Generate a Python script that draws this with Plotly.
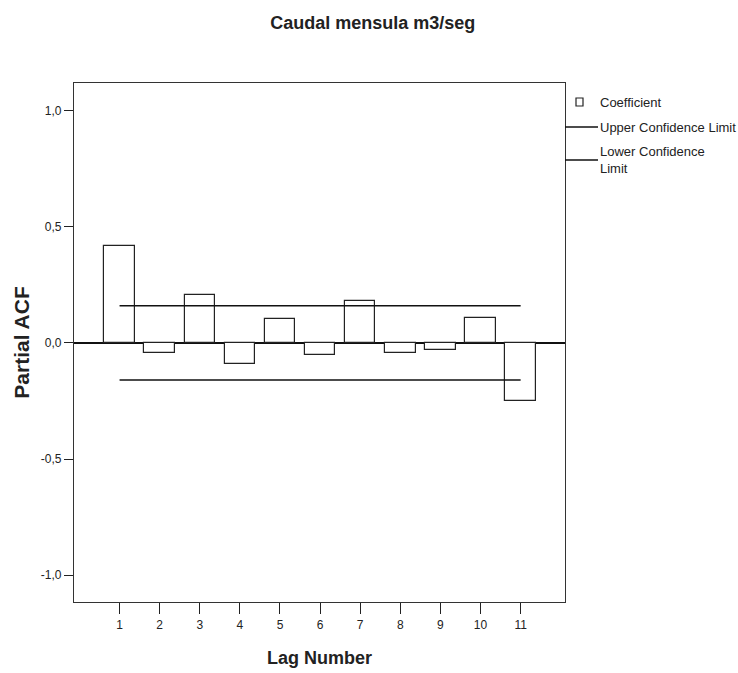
import plotly.graph_objects as go

# ---- data ----
lags = [1, 2, 3, 4, 5, 6, 7, 8, 9, 10, 11]
pacf = [0.415, -0.043, 0.207, -0.092, 0.102, -0.053, 0.181, -0.043, -0.031, 0.106, -0.251]
upper_cl = [0.16] * 11
lower_cl = [-0.16] * 11
ytick_vals = [-1.0, -0.5, 0.0, 0.5, 1.0]
ytick_text = ["-1,0", "-0,5", "0,0", "0,5", "1,0"]

W, H = 738, 673
ML, MR, MT, MB = 74, 173, 83, 71
PW, PH = W - ML - MR, H - MT - MB


def px(x):
    return (x - ML) / PW


def py(y):
    return 1 - (y - MT) / PH


SANS = "Liberation Sans, Arial, sans-serif"

fig = go.Figure()
fig.add_trace(go.Bar(
    x=lags, y=pacf, width=0.76,
    marker=dict(color="white", line=dict(color="#222", width=1.2)),
    name="Coefficient", showlegend=False,
))
fig.add_trace(go.Scatter(
    x=lags, y=upper_cl, mode="lines",
    line=dict(color="#111", width=1.5), name="Upper Confidence Limit", showlegend=False,
))
fig.add_trace(go.Scatter(
    x=lags, y=lower_cl, mode="lines",
    line=dict(color="#111", width=1.5), name="Lower Confidence Limit", showlegend=False,
))

# legend drawn manually
shapes = [
    dict(type="rect", xref="paper", yref="paper", x0=px(576), x1=px(583), y0=py(106), y1=py(98),
         line=dict(color="#222", width=1.2), fillcolor="white"),
    dict(type="line", xref="paper", yref="paper", x0=px(565), x1=px(598), y0=py(127), y1=py(127),
         line=dict(color="#111", width=1.3)),
    dict(type="line", xref="paper", yref="paper", x0=px(565), x1=px(598), y0=py(160), y1=py(160),
         line=dict(color="#111", width=1.3)),
]
annotations = [
    dict(text="Coefficient", x=px(598), y=py(102)),
    dict(text="Upper Confidence Limit", x=px(598), y=py(127)),
    dict(text="Lower Confidence<br>Limit", x=px(598), y=py(160)),
]
for a in annotations:
    a.update(xref="paper", yref="paper", xanchor="left", yanchor="middle", showarrow=False,
             align="left", font=dict(family=SANS, size=13, color="#222"))

fig.update_layout(
    width=W, height=H,
    margin=dict(l=ML, r=MR, t=MT, b=MB, autoexpand=False),
    paper_bgcolor="white", plot_bgcolor="white",
    title=dict(text="<b>Caudal mensula m3/seg</b>", x=0.505, xref="container", xanchor="center",
               y=1 - 23 / H, yref="container", yanchor="middle",
               font=dict(family=SANS, size=18, color="#222")),
    shapes=shapes, annotations=annotations,
    bargap=0,
)
fig.update_xaxes(
    range=[-0.136, 12.106], tickvals=lags, ticktext=[str(v) for v in lags],
    ticks="outside", ticklen=11, tickcolor="#222", tickwidth=1,
    showline=True, mirror=True, linecolor="#333", linewidth=1.2,
    showgrid=False, zeroline=False, automargin=False,
    tickfont=dict(family=SANS, size=12, color="#222"),
    title=dict(text="<b>Lag Number</b>", standoff=20, font=dict(family=SANS, size=18, color="#222")),
)
fig.update_yaxes(
    range=[-1.115, 1.118], tickvals=ytick_vals, ticktext=ytick_text,
    ticks="outside", ticklen=9, tickcolor="#222", tickwidth=1,
    showline=True, mirror=True, linecolor="#333", linewidth=1.2,
    showgrid=False, zeroline=True, zerolinecolor="#111", zerolinewidth=1.5, automargin=False,
    tickfont=dict(family=SANS, size=12, color="#222"),
    title=dict(text="<b>Partial ACF</b>", standoff=5, font=dict(family=SANS, size=21, color="#222")),
)

fig.write_html("out.html")
